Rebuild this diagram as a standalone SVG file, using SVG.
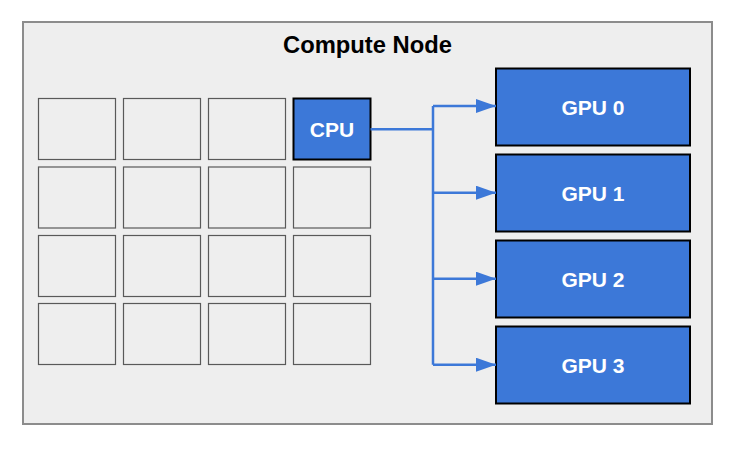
<svg xmlns="http://www.w3.org/2000/svg" width="738" height="450" viewBox="0 0 738 450">
<defs>
<style>
.frame{fill:#eeeeee;stroke:#8c8c8c;stroke-width:2}
.core{fill:#eeeeee;stroke:#595959;stroke-width:1.2}
.cpu{fill:#3c78d8;stroke:#000000;stroke-width:2}
.gpu{fill:#3c78d8;stroke:#000000;stroke-width:2}
.title{font-family:"Liberation Sans",Arial,sans-serif;font-weight:bold;font-size:23px;fill:#000000;text-anchor:middle}
.lbl{font-family:"Liberation Sans",Arial,sans-serif;font-weight:bold;font-size:21px;fill:#ffffff;text-anchor:middle}
.conn{fill:none;stroke:#3c78d8;stroke-width:2.5}
</style>
<marker id="arr" markerUnits="userSpaceOnUse" markerWidth="22" markerHeight="16" refX="20" refY="7" orient="auto">
<path d="M0,0 L20,7 L0,14 Z" fill="#3c78d8"/>
</marker>
</defs>
<g id="compute-node">
<rect class="frame" x="23" y="22" width="689" height="402"/>
<text class="title" x="367.5" y="53" textLength="169" lengthAdjust="spacingAndGlyphs">Compute Node</text>
</g>
<g id="cores">
<rect class="core" x="38.5" y="98.5" width="77" height="61"/>
<rect class="core" x="123.5" y="98.5" width="77" height="61"/>
<rect class="core" x="208.5" y="98.5" width="77" height="61"/>
<rect class="core" x="38.5" y="167" width="77" height="61"/>
<rect class="core" x="123.5" y="167" width="77" height="61"/>
<rect class="core" x="208.5" y="167" width="77" height="61"/>
<rect class="core" x="293.5" y="167" width="77" height="61"/>
<rect class="core" x="38.5" y="235.5" width="77" height="61"/>
<rect class="core" x="123.5" y="235.5" width="77" height="61"/>
<rect class="core" x="208.5" y="235.5" width="77" height="61"/>
<rect class="core" x="293.5" y="235.5" width="77" height="61"/>
<rect class="core" x="38.5" y="303.5" width="77" height="61"/>
<rect class="core" x="123.5" y="303.5" width="77" height="61"/>
<rect class="core" x="208.5" y="303.5" width="77" height="61"/>
<rect class="core" x="293.5" y="303.5" width="77" height="61"/>
</g>
<g id="cpu">
<rect class="cpu" x="293.5" y="98.5" width="77" height="61"/>
<text class="lbl" x="332" y="136.5">CPU</text>
</g>
<g id="gpu0">
<rect class="gpu" x="496" y="68.5" width="194" height="77"/>
<text class="lbl" x="593" y="114.5">GPU 0</text>
</g>
<g id="gpu1">
<rect class="gpu" x="496" y="154.5" width="194" height="77"/>
<text class="lbl" x="593" y="200.5">GPU 1</text>
</g>
<g id="gpu2">
<rect class="gpu" x="496" y="240.5" width="194" height="77"/>
<text class="lbl" x="593" y="286.5">GPU 2</text>
</g>
<g id="gpu3">
<rect class="gpu" x="496" y="326.5" width="194" height="77"/>
<text class="lbl" x="593" y="372.5">GPU 3</text>
</g>
<g id="connectors">
<path class="conn" d="M370.5,129.3 H433 M433,106 V364.7"/>
<path class="conn" d="M433,106 H496" marker-end="url(#arr)"/>
<path class="conn" d="M433,192.7 H496" marker-end="url(#arr)"/>
<path class="conn" d="M433,278.7 H496" marker-end="url(#arr)"/>
<path class="conn" d="M433,364.7 H496" marker-end="url(#arr)"/>
</g>
</svg>
